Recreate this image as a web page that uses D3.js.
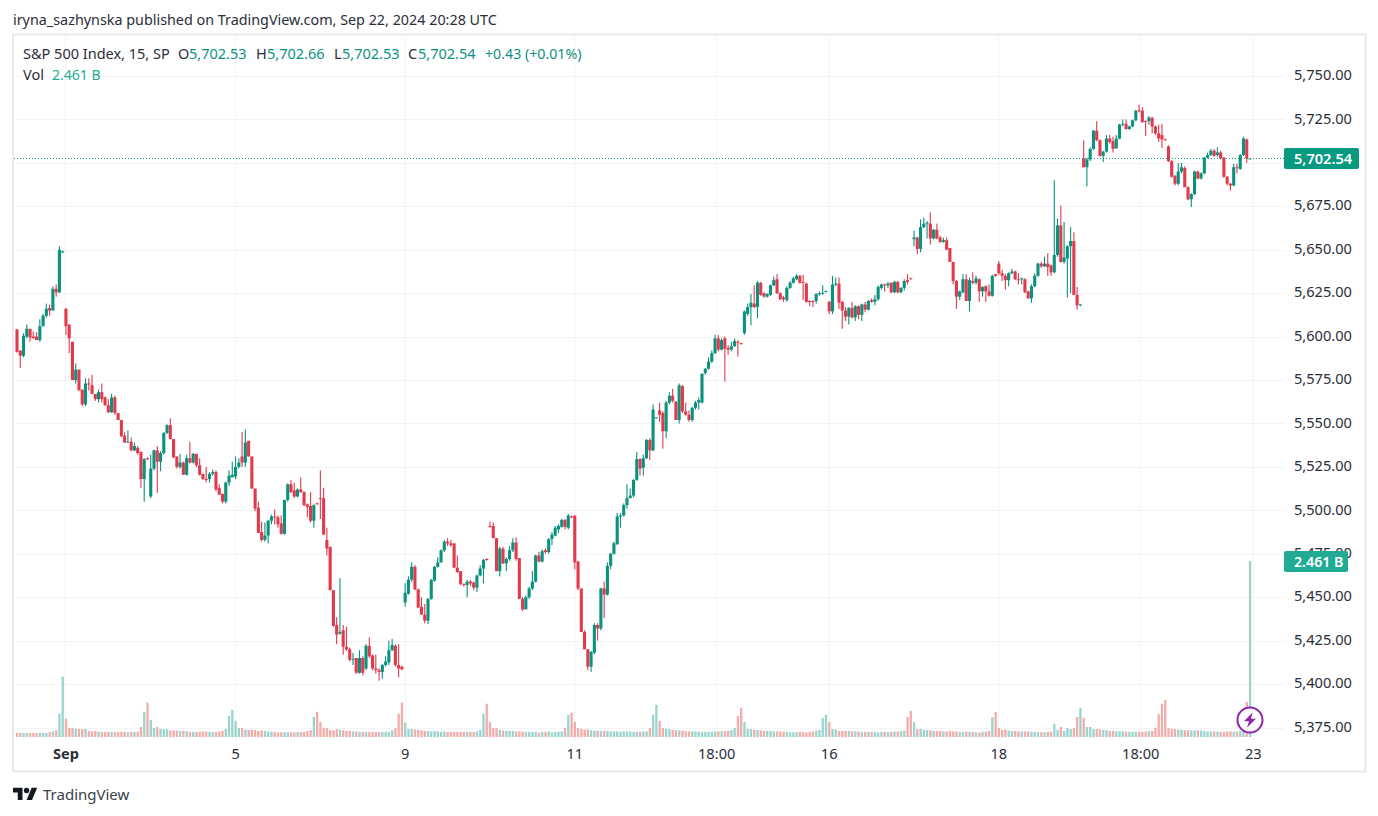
<!DOCTYPE html>
<html>
<head>
<meta charset="utf-8">
<title>S&P 500 Index, 15</title>
<script src="https://cdn.jsdelivr.net/npm/d3@7"></script>
<style>
    html, body { margin: 0; padding: 0; background: #fff; }
    svg { display: block; }
    text { font-family: "Noto Sans", sans-serif; }
    .axis path, .axis line { display: none; }
    .axis text { font-family: "Noto Sans", sans-serif; font-size: 14.6px; fill: #2a2e39; }
</style>
</head>
<body>
<svg id="chart" width="1378" height="816"></svg>
<script>
// every row is open, high, low, close, one array per session (15 minute bars)
var aug30 = [
    [5604,5604.5,5591,5591],[5592,5592,5582,5589],[5589,5602,5588,5600.5],[5600,5607,5599,5604.5],
    [5604.5,5604.5,5597,5599.5],[5600,5603,5599,5599],[5600,5602.5,5598,5598],[5598,5610,5597,5606],
    [5606,5613,5606,5612],[5612,5619,5611,5616],[5616.5,5618.5,5612,5615],[5615,5629,5615,5627.5],
    [5627.5,5630,5623,5625.5],[5625.5,5652,5625,5650],[5648.5,5649.5,5648,5649]
];
var sep3 = [
    [5616,5616.5,5601,5606],[5607,5607,5590.5,5599],[5597,5597,5575,5575],[5575,5584.5,5573,5581],
    [5581,5581,5569,5569],[5569.5,5569.5,5560,5561],[5561,5576,5560,5573],[5573,5576,5569,5572.5],
    [5572,5578,5567,5567],[5567,5567,5563,5564],[5564,5569.5,5562,5568],[5568,5573,5562,5564],
    [5565,5565.5,5560,5560.5],[5560.5,5564,5556,5556.5],[5556.5,5567,5556,5565],[5565,5566,5555,5556],
    [5556,5556,5552,5552],[5552,5552,5542.5,5542.5],[5543,5545,5539,5539],[5539,5546,5539,5539.5],
    [5539.5,5542,5534,5534.5],[5534.5,5539,5534,5537],[5536,5537,5532,5533],[5533.5,5534,5513,5518],
    [5518,5530,5505,5529.5],[5530,5530.5,5529,5529.5]
];
var sep4 = [
    [5508,5532,5507,5524],[5524,5535,5523,5534.5],[5534.5,5537,5510,5528],[5528,5534,5522.5,5533],
    [5533,5545,5532,5544.5],[5544.5,5549.5,5544,5549],[5549,5553,5541,5541],[5541,5541,5530,5530.5],
    [5531,5531,5524,5525],[5525,5532.5,5524,5527.5],[5527.5,5528,5520.5,5520.5],[5520.5,5532,5520,5530],
    [5530,5539.5,5527,5527.5],[5527.5,5533,5527,5532.5],[5532.5,5532.5,5525,5526],[5526,5530,5520,5520.5],
    [5521,5521,5517.5,5518],[5518,5525,5516,5517.5],[5518,5522,5516,5521],[5521,5523.5,5520,5522],
    [5522,5523,5511,5512],[5513,5515,5509,5509],[5509.5,5509.5,5504,5505],[5505,5516.5,5504,5516],
    [5516,5523,5514,5520],[5519,5528,5519,5520.5]
];
var sep5 = [
    [5519.5,5531,5518,5525],[5525,5530,5524,5527.5],[5531,5545,5525,5527.5],[5527.5,5546.5,5525,5539],
    [5540,5540,5531,5531],[5531,5531,5512.5,5512.5],[5512.5,5512.5,5499.5,5501],[5501.5,5505,5487,5487],
    [5487.5,5493.5,5482,5483],[5483,5493,5482,5485.5],[5485.5,5494.5,5481,5494],[5494,5497.5,5492,5496.5],
    [5496.5,5500.5,5492,5496],[5496,5497,5490,5492],[5492.5,5497,5486,5486.5],[5486.5,5506,5486,5506],
    [5506,5515.5,5505,5515],[5515,5517.5,5510,5510.5],[5511.5,5516,5507,5508],[5508,5512.5,5507.5,5512],
    [5512,5519,5510,5510.5],[5510.5,5511,5502.5,5503],[5503.5,5504,5496,5502],[5502.5,5510.5,5493,5494],
    [5494,5503.5,5490,5503],[5504,5504.5,5503.5,5503.5]
];
var sep6 = [
    [5507,5523,5495,5506.5],[5507,5513,5486,5486],[5483,5490,5474,5478],[5479,5479,5454,5454],
    [5454,5454,5433,5433.5],[5434,5438.5,5423,5428.5],[5429,5461,5428.5,5430],[5431,5434,5417,5421.5],
    [5421.5,5433,5419,5420],[5420,5421,5413,5414],[5414,5418,5411,5414.5],[5415,5415,5406,5406.5],
    [5406.5,5419.5,5406,5415],[5415,5416,5405,5406.5],[5409,5423,5408,5422],[5422,5427,5415,5416],
    [5416.5,5417,5408,5409],[5409,5417,5406,5408],[5408,5409,5402,5407],[5407,5411.5,5403,5411],
    [5411,5416,5410,5413],[5412.5,5425,5411,5419.5],[5419.5,5426,5419,5422.5],[5422,5423,5410,5411],
    [5411,5423,5404,5409],[5410,5410.5,5408,5408.5]
];
var sep9 = [
    [5447,5458,5444.5,5452.5],[5452,5462,5451.5,5460],[5460,5470,5459,5467.5],[5467.5,5468.5,5454,5454.5],
    [5454.5,5455,5444,5444],[5444.5,5450,5440,5440],[5440,5446,5435,5436.5],[5436.5,5449.5,5434.5,5449],
    [5449,5460.5,5448.5,5460],[5459.5,5468,5459,5467.5],[5467.5,5473,5467,5470],[5470,5477.5,5470,5477],
    [5477,5483,5476,5482],[5482,5484,5479.5,5481],[5481,5483,5479,5480],[5481,5481,5467,5467],
    [5467,5474,5464,5464.5],[5465,5465,5457,5457.5],[5457.5,5458,5456,5457],[5457,5460,5450,5459],
    [5459,5460,5456.5,5458],[5458.5,5459,5454,5455.5],[5455.5,5463,5453,5462.5],[5462.5,5468.5,5462,5466.5],
    [5466.5,5472,5458,5471.5],[5472,5472.5,5471,5471.5]
];
var sep10 = [
    [5491,5493.5,5490,5490.5],[5491,5493,5484,5484],[5484,5484,5465,5465],[5465,5479,5462,5478],
    [5478,5479,5469,5469.5],[5469.5,5473,5465,5472],[5472,5479.5,5471,5477],[5477,5484,5476,5481.5],
    [5481.5,5484.5,5471,5472],[5472.5,5472.5,5449,5449],[5449,5450,5442,5443],[5443,5451,5443,5450],
    [5450,5456,5449,5455],[5455,5465,5454,5459],[5459,5474.5,5458.5,5474],[5474,5476,5470,5470.5],
    [5470.5,5477.5,5470,5476.5],[5477,5478,5475,5476],[5476,5484,5475,5483.5],[5483.5,5487.5,5480,5486],
    [5485.5,5491,5485,5490],[5489,5492,5487,5491],[5490.5,5495,5490,5494.5],[5494.5,5495,5489,5490.5],
    [5490,5498,5489,5497],[5496.5,5497,5495.5,5496]
];
var sep11 = [
    [5497,5497,5466,5470],[5470.5,5471,5454,5455],[5455,5455,5430,5430],[5430,5431,5420,5420],
    [5420,5420,5408,5410],[5410,5419,5407,5418.5],[5418,5435,5417,5434],[5434,5435,5425,5432],
    [5432,5455.5,5431,5455],[5455,5459,5438,5451.5],[5451.5,5470,5451,5468],[5468,5475.5,5466,5475],
    [5475,5482,5474.5,5481],[5480.5,5498.5,5480,5496.5],[5496.5,5498.5,5490,5497],[5497,5504,5496.5,5503],
    [5503,5515,5501,5507],[5507,5512.5,5507,5508.5],[5508.5,5518,5507.5,5517.5],[5517.5,5533.5,5517,5529.5],
    [5529.5,5530,5520,5524],[5524.5,5532,5520,5530],[5530,5541,5529.5,5540.5],[5540.5,5541.5,5529,5534.5],
    [5534.5,5561,5534,5558],[5553,5553.5,5553,5553.5]
];
var sep12 = [
    [5557.5,5562,5551,5555],[5556,5557,5535.5,5545.5],[5545.5,5563,5541.5,5562],[5562,5568,5561,5566],
    [5566,5570,5562,5563],[5562.5,5563,5552,5552],[5552,5573,5550,5572],[5571.5,5572,5556,5557],
    [5557,5562,5554.5,5555],[5555,5557.5,5551,5552],[5552,5559.5,5551,5559],[5559,5563,5558,5562],
    [5562,5565,5558,5563.5],[5562,5579,5561.5,5578.5],[5579,5582,5578,5581.5],[5581.5,5588,5581,5585.5],
    [5585.5,5592,5585,5590.5],[5590.5,5601,5590,5599],[5599,5601,5591.5,5592.5],[5592.5,5599,5592,5598],
    [5599,5600,5574,5593],[5593.5,5595,5589.5,5592.5],[5592.5,5597,5591.5,5594.5],[5594.5,5599,5594,5597.5],
    [5597,5598,5588.5,5596.5],[5596.2,5596.5,5595.5,5596]
];
var sep13 = [
    [5602,5615,5601,5614.5],[5613,5619,5612,5617],[5617,5624.5,5606.5,5619.5],[5619,5629.5,5616.5,5617],
    [5617,5632,5610.5,5631],[5631,5631.5,5623.5,5624],[5625,5625.5,5622.5,5623],[5623,5625,5622.5,5624.5],
    [5624,5630,5623.5,5629.5],[5629.5,5634.5,5629,5632.5],[5633,5636,5624.5,5625],[5625,5625.5,5621,5621.5],
    [5622.5,5623.5,5620,5621.5],[5621,5629,5620,5628],[5628,5632,5627.5,5631],[5631,5634.5,5630.5,5633.5],
    [5633,5636,5632.5,5635],[5635,5635.5,5630.5,5631],[5631.5,5635.5,5621,5631],[5630.5,5631,5619.5,5620],
    [5620.5,5621,5617.5,5620],[5620.5,5621,5617,5620],[5620.5,5625,5619,5624.5],[5624.5,5626,5623.5,5625],
    [5625,5629.5,5624,5625.2],[5626,5626.5,5625.5,5626.2]
];
var sep16 = [
    [5620,5620.5,5613,5614.5],[5614.5,5635,5613,5630],[5630,5634,5629,5630.5],[5630.5,5634,5616,5619.5],
    [5620,5620.5,5604.5,5615],[5615,5617,5609,5611.5],[5611.5,5617,5607,5616.5],[5616.5,5620,5610.5,5611],
    [5611,5618,5609,5617.5],[5617.5,5618,5610,5612.5],[5612.5,5619,5609,5618.5],[5618.5,5620,5614,5615.5],
    [5615.5,5621,5615,5620.5],[5621,5622,5619.5,5620],[5620,5624,5618,5621.5],[5621.5,5629.5,5620.5,5628.5],
    [5628,5630.5,5627,5630],[5630,5630.5,5626,5629.5],[5629.5,5631.5,5628,5630.5],[5631,5631,5625,5625.5],
    [5625.5,5632,5625,5631.5],[5631.5,5632,5625,5625.5],[5625.5,5628.5,5625,5628],[5628,5633,5626.5,5632],
    [5632.5,5636,5630,5631.5],[5633.5,5634,5633,5633.2]
];
var sep17 = [
    [5656,5661,5652,5657],[5657,5657.5,5647.5,5650.5],[5650.5,5667.5,5648.5,5663],[5663,5668.5,5662.5,5665],
    [5665,5666.5,5656.5,5665.5],[5665,5671.5,5653,5656.5],[5656.5,5662,5656,5661.5],[5661.5,5665,5656,5656.5],
    [5657,5658,5654,5654.5],[5654.5,5657,5654,5655.5],[5655.5,5657,5650,5650],[5651,5651,5643,5643],
    [5643,5643,5630,5632],[5632,5632.5,5616,5623],[5623,5626.5,5621,5626],[5625.5,5636,5625,5633],
    [5633,5636,5620.5,5620.5],[5620.5,5634,5614.5,5632.5],[5632,5637,5630,5631],[5631,5635,5630,5633.5],
    [5633,5633.5,5620,5626],[5626,5629,5623,5628.5],[5629,5629.5,5620,5626],[5626,5630,5623,5623.5],
    [5623.5,5635.5,5623,5635],[5636,5636,5634.5,5635]
];
var sep18 = [
    [5642,5643.5,5635.5,5636.5],[5636.5,5638.5,5632,5635],[5635,5636,5627,5632.5],[5632.5,5637,5629,5636.5],
    [5636.5,5639,5636,5637.5],[5637.5,5638,5632.5,5633],[5633,5636.5,5630,5632.5],[5633,5634,5630,5633.5],
    [5633,5633.5,5625,5625.5],[5626,5626.5,5622,5622],[5622,5630,5619.5,5629],[5629,5636.5,5628.5,5635],
    [5635,5642.5,5634.5,5642],[5642,5643,5639.5,5640.5],[5640.5,5646,5640,5642],[5642,5648,5635,5640],
    [5641,5641.5,5635,5637],[5637,5690,5636.5,5647],[5647,5668,5646,5664],[5664,5675.5,5642.5,5643],
    [5643,5666,5642,5645.5],[5645,5652.5,5622.5,5652],[5652,5663,5625,5655],[5655,5660,5624,5624],
    [5624,5628.5,5615.5,5618],[5618,5618.5,5617.5,5618.5]
];
var sep19 = [
    [5702.5,5713,5697.5,5697.5],[5697.5,5703,5686.5,5702],[5702,5709,5701,5708],[5708,5719,5707.5,5718.5],
    [5718.5,5724,5712.5,5713],[5713,5713.5,5703.5,5704],[5704,5707,5700.5,5706.5],[5706.5,5716,5706,5714],
    [5714,5716,5711,5712],[5712.5,5715,5706,5708],[5708.5,5716,5708,5714],[5714,5722.5,5713.5,5722],
    [5722,5725,5721,5722.5],[5722.5,5725,5719,5719.5],[5719.5,5721.5,5719,5721],[5721,5725,5720.5,5724.5],
    [5724.5,5730.5,5724,5730],[5730.2,5733.5,5729,5730],[5730,5732,5723,5723.5],[5724,5724.5,5715.5,5723.5],
    [5724,5727,5722,5726],[5726,5726.5,5717,5721],[5721,5721.5,5716,5717],[5717,5722,5712,5714],
    [5716,5722.5,5708.5,5713.5],[5713.5,5714,5713,5713.2]
];
var sep20 = [
    [5709.5,5710,5700.5,5701],[5701,5701.5,5691.5,5692],[5692.5,5693,5687,5688],[5688,5700,5687,5695],
    [5695,5700,5694,5697.5],[5697,5698,5686,5686],[5686,5686.5,5678.5,5679],[5679,5682.5,5674.5,5682],
    [5682,5695.5,5681.5,5695],[5695,5695.5,5690.5,5691],[5691,5694.5,5690.5,5694],[5694,5703.5,5693.5,5703],
    [5703,5706,5702.5,5704.5],[5704.5,5708,5704,5707],[5707,5708,5703.5,5704],[5704.5,5709,5703.5,5706],
    [5706,5707,5702,5702.5],[5703,5703.5,5691.5,5692],[5692,5692.5,5687,5688],[5688,5688.5,5684,5687],
    [5687,5699.5,5686.5,5697.5],[5697.5,5699.5,5694,5697],[5696.5,5705,5696,5704.5],[5704.5,5715,5704,5714],
    [5713.5,5714,5700,5702.5],[5702.53,5702.66,5702.53,5702.54]
];

// volume in millions, same sessions
var volAug30 = [58,56,58,55,56,58,55,58,56,58,70,78,95,325,845];
var volSep3 = [255,130,125,115,112,110,112,85,80,85,75,70,72,70,68,70,68,72,72,65,72,70,75,140,350,480];
var volSep4 = [240,128,140,112,108,108,90,95,90,85,85,80,70,70,68,72,78,75,72,70,72,78,85,112,295,380];
var volSep5 = [225,125,125,100,100,105,98,85,95,85,78,75,70,62,68,68,68,65,68,68,68,70,85,98,280,350];
var volSep6 = [210,128,125,100,95,110,100,95,85,85,78,80,72,72,70,68,72,70,68,70,72,72,95,125,325,480];
var volSep9 = [200,112,115,105,100,95,85,85,78,82,80,72,78,72,72,70,72,72,70,72,72,70,78,98,325,465];
var volSep10 = [210,125,125,100,90,85,85,85,78,80,78,72,72,72,70,62,72,72,78,65,72,72,78,125,310,340];
var volSep11 = [210,125,112,105,105,95,90,90,85,85,85,78,78,78,72,78,78,78,72,75,75,78,80,125,310,450];
var volSep12 = [225,125,112,112,98,95,92,90,80,78,78,78,75,72,72,75,72,75,78,80,85,85,98,125,295,410];
var volSep13 = [210,112,112,100,98,92,85,85,85,80,78,80,72,72,65,65,72,72,70,62,72,75,90,100,265,310];
var volSep16 = [210,112,105,85,85,85,85,80,80,78,72,72,72,72,70,65,72,72,70,72,75,78,78,90,280,365];
var volSep17 = [210,112,112,100,100,95,85,85,85,78,78,85,78,78,70,70,78,72,70,65,62,72,75,85,280,350];
var volSep18 = [127,100,105,90,85,85,80,78,78,78,72,72,65,68,68,72,72,180,100,140,85,125,112,125,280,405];
var volSep19 = [265,140,140,112,112,105,100,95,85,85,80,80,78,75,75,72,72,72,75,78,85,85,130,320,465,520];
var volSep20 = [125,112,112,105,100,95,95,92,92,95,92,85,80,78,78,78,72,72,78,78,72,78,85,125,490,2461];

var priceTicks = [5375,5400,5425,5450,5475,5500,5525,5550,5575,5600,5625,5650,5675,5700,5725,5750];
var timeTickBars = [15,67,119,171,214.5,249,301,344.5,379];
var timeTickLabels = ['Sep','5','9','11','18:00','16','18','18:00','23'];
var lastClose = 5702.54;
var lastVolume = 2461;

var config = {
    up: '#0b927f',
    down: '#e23a4d',
    volUp: '#9bd3cd',
    volDown: '#f2adaa',
    grid: '#f3f4f6',
    frame: '#e7e9ee',
    text: '#2a2e39'
};

var sessions = [aug30, sep3, sep4, sep5, sep6, sep9, sep10, sep11, sep12, sep13, sep16, sep17, sep18, sep19, sep20];
var volSessions = [volAug30, volSep3, volSep4, volSep5, volSep6, volSep9, volSep10, volSep11, volSep12, volSep13, volSep16, volSep17, volSep18, volSep19, volSep20];

var candles = d3.merge(sessions).map(function(row, i) {
    return { i: i, open: row[0], high: row[1], low: row[2], close: row[3] };
});
var volumes = d3.merge(volSessions);
candles.forEach(function(d, i) { d.volume = volumes[i]; });

var x = d3.scaleLinear().domain([0, 378]).range([16.5, 1249.5]);
var y = d3.scaleLinear().domain([5375, 5750]).range([727.5, 76]);
var volY = d3.scaleLinear().domain([0, lastVolume]).range([737, 561]);

var svg = d3.select('#chart');

function drawFrame() {
    svg.append('rect')
        .attr('x', 13).attr('y', 34.5)
        .attr('width', 1352.5).attr('height', 737)
        .attr('fill', '#fff')
        .attr('stroke', config.frame)
        .attr('stroke-width', 2);

    svg.append('text')
        .attr('x', 13).attr('y', 24.5)
        .attr('font-size', 14.35)
        .attr('fill', config.text)
        .text('iryna_sazhynska published on TradingView.com, Sep 22, 2024 20:28 UTC');
}

function drawGrid() {
    var g = svg.append('g').attr('class', 'grid');

    g.selectAll('line.h')
        .data(priceTicks)
        .join('line')
        .attr('class', 'h')
        .attr('x1', 14).attr('x2', 1284)
        .attr('y1', function(d) { return Math.round(y(d)) + 0.5; })
        .attr('y2', function(d) { return Math.round(y(d)) + 0.5; })
        .attr('stroke', config.grid);

    g.selectAll('line.v')
        .data(timeTickBars)
        .join('line')
        .attr('class', 'v')
        .attr('y1', 35).attr('y2', 741)
        .attr('x1', function(d) { return Math.round(x(d)) + 0.5; })
        .attr('x2', function(d) { return Math.round(x(d)) + 0.5; })
        .attr('stroke', config.grid);
}

function drawVolume() {
    svg.append('g')
        .selectAll('rect')
        .data(candles)
        .join('rect')
        .attr('x', function(d) { return x(d.i) - 0.6; })
        .attr('width', 2.3)
        .attr('y', function(d) { return volY(d.volume); })
        .attr('height', function(d) { return volY(0) - volY(d.volume); })
        .attr('fill', function(d) { return d.close >= d.open ? config.volUp : config.volDown; });
}

function drawCandles() {
    var g = svg.append('g')
        .selectAll('g')
        .data(candles)
        .join('g')
        .attr('fill', function(d) { return d.close >= d.open ? config.up : config.down; });

    g.append('rect')
        .attr('x', function(d) { return x(d.i) - 0.05; })
        .attr('width', 1.1)
        .attr('y', function(d) { return y(d.high); })
        .attr('height', function(d) { return y(d.low) - y(d.high); });

    g.append('rect')
        .attr('x', function(d) { return x(d.i) - 1.05; })
        .attr('width', 3.1)
        .attr('y', function(d) { return y(Math.max(d.open, d.close)); })
        .attr('height', function(d) { return Math.max(1, Math.abs(y(d.open) - y(d.close))); });
}

function drawAxes() {
    svg.append('g')
        .attr('class', 'axis')
        .attr('transform', 'translate(1294,-1)')
        .call(d3.axisRight(y).tickValues(priceTicks).tickSize(0).tickPadding(0).tickFormat(d3.format(',.2f')));

    svg.append('g')
        .attr('class', 'axis')
        .attr('transform', 'translate(0,749)')
        .call(d3.axisBottom(x).tickValues(timeTickBars).tickSize(0).tickPadding(0)
            .tickFormat(function(d, i) { return timeTickLabels[i]; }))
        .selectAll('text')
        .style('font-weight', function(d, i) { return i === 0 ? 700 : 400; });
}

function drawLastPrice() {
    var py = Math.round(y(lastClose)) + 0.5;

    svg.append('line')
        .attr('x1', 14).attr('x2', 1284)
        .attr('y1', py).attr('y2', py)
        .attr('stroke', '#089981')
        .attr('stroke-dasharray', '1,2');

    svg.append('rect')
        .attr('x', 1284).attr('y', py - 10.5)
        .attr('width', 75).attr('height', 21)
        .attr('rx', 2)
        .attr('fill', '#089981');

    svg.append('text')
        .attr('x', 1294).attr('y', py + 5.5)
        .attr('font-size', 14.6)
        .attr('font-weight', 600)
        .attr('fill', '#fff')
        .text(d3.format(',.2f')(lastClose));

    svg.append('rect')
        .attr('x', 1284).attr('y', 551)
        .attr('width', 64).attr('height', 21)
        .attr('rx', 2)
        .attr('fill', '#22ab94');

    svg.append('text')
        .attr('x', 1294).attr('y', 566.5)
        .attr('font-size', 14.2)
        .attr('font-weight', 600)
        .attr('fill', '#fff')
        .text('2.461 B');
}

function drawLegend() {
    var parts = [
        { x: 23, t: 'S&P 500 Index, 15, SP', c: config.text },
        { x: 178, t: 'O', c: config.text }, { x: 189, t: '5,702.53', c: config.up },
        { x: 256, t: 'H', c: config.text }, { x: 267, t: '5,702.66', c: config.up },
        { x: 334, t: 'L', c: config.text }, { x: 342, t: '5,702.53', c: config.up },
        { x: 408, t: 'C', c: config.text }, { x: 418, t: '5,702.54', c: config.up },
        { x: 485, t: '+0.43 (+0.01%)', c: config.up }
    ];

    svg.append('g')
        .selectAll('text')
        .data(parts)
        .join('text')
        .attr('x', function(d) { return d.x; })
        .attr('y', 59)
        .attr('font-size', function(d) { return d.x === 485 ? 14.2 : 14.5; })
        .attr('fill', function(d) { return d.c; })
        .text(function(d) { return d.t; });

    svg.append('text')
        .attr('x', 23).attr('y', 80)
        .attr('font-size', 14.5)
        .attr('fill', config.text)
        .text('Vol');

    svg.append('text')
        .attr('x', 52).attr('y', 80)
        .attr('font-size', 14)
        .attr('fill', '#22ab94')
        .text('2.461 B');
}

function drawBadge() {
    var g = svg.append('g').attr('transform', 'translate(1250,720)');

    g.append('circle')
        .attr('r', 12.5)
        .attr('fill', '#fff')
        .attr('stroke', '#8e24aa')
        .attr('stroke-width', 2);

    g.append('path')
        .attr('d', 'M2.6,-7.5 L-6,1.2 L-1,1.2 L-3,7.5 L6,-1.2 L1,-1.2 Z')
        .attr('fill', '#8e24aa');
}

function drawLogo() {
    svg.append('path')
        .attr('transform', 'translate(13,785) scale(0.68)')
        .attr('d', 'M14 22H7V11H0V4h14v18zM28 22h-8l7.5-18h8L28 22z')
        .attr('fill', '#131722');

    svg.append('circle')
        .attr('transform', 'translate(13,785) scale(0.68)')
        .attr('cx', 20).attr('cy', 8).attr('r', 4)
        .attr('fill', '#131722');

    svg.append('text')
        .attr('x', 43).attr('y', 800)
        .attr('font-size', 15)
        .attr('fill', '#3a3e49')
        .text('TradingView');
}

drawFrame();
drawGrid();
drawVolume();
drawCandles();
drawAxes();
drawLastPrice();
drawLegend();
drawBadge();
drawLogo();
</script>
</body>
</html>
